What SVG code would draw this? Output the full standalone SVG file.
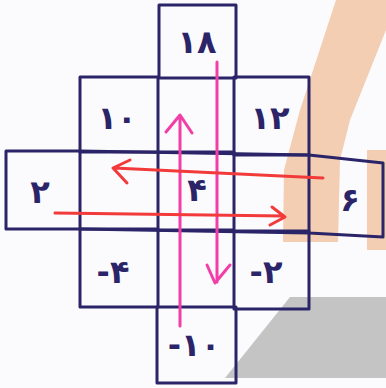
<svg xmlns="http://www.w3.org/2000/svg" width="386" height="388" viewBox="0 0 386 388">
<style>
.box{fill:none;stroke:#2b2468;stroke-width:3;stroke-linejoin:round}
.num{font-family:"DejaVu Sans",sans-serif;font-size:32px;font-weight:bold;fill:#2b2468;text-anchor:middle;dominant-baseline:central;direction:ltr;unicode-bidi:embed}
.pink{fill:none;stroke:#f23fa8;stroke-width:3;stroke-linecap:round;stroke-linejoin:round}
.red{fill:none;stroke:#f23a3a;stroke-width:3;stroke-linecap:round;stroke-linejoin:round}
</style>
<rect width="386" height="388" fill="#fbfbfd"/>
<g id="background">
<polygon points="336,0 386,0 386,30 350,120 340,160 338,242 283,242 284,170 300,110" fill="#f1c6a4" opacity="0.85"/>
<polygon points="367,150 386,150 386,250 367,250" fill="#f1c6a4" opacity="0.85"/>
<polygon points="290,297 386,297 386,378 225,378" fill="#c4c4c4"/>
</g>
<g id="node-top"><rect class="box" x="159" y="5" width="77" height="73"/><text class="num" x="197" y="42">۱۸</text></g>
<g id="node-tl"><rect class="box" x="80" y="77" width="78" height="75"/><text class="num" x="117" y="118">۱۰</text></g>
<g id="node-tr"><rect class="box" x="234" y="77" width="75" height="78"/><text class="num" x="270" y="118">۱۲</text></g>
<g id="node-left"><polygon class="box" points="6,151 80,151 80,229 6,229"/><text class="num" x="40" y="192">۲</text></g>
<g id="node-center"><rect class="box" x="158" y="152" width="76" height="78"/><text class="num" x="197" y="190">۴</text></g>
<g id="node-right"><polygon class="box" points="309,155 383,163 383,237 309,233"/><text class="num" x="350" y="200">۶</text></g>
<g id="node-bl"><rect class="box" x="80" y="229" width="78" height="78"/><text class="num" x="113" y="272">-۴</text></g>
<g id="node-br"><rect class="box" x="234" y="231" width="75" height="78"/><text class="num" x="266" y="272">-۲</text></g>
<g id="node-bottom"><rect class="box" x="157" y="307" width="79" height="76"/><text class="num" x="194" y="345">-۱۰</text></g>
<g id="grid-lines">
<line class="box" x1="80" y1="151" x2="309" y2="155"/>
<line class="box" x1="80" y1="229" x2="309" y2="233"/>
</g>
<g id="connectors">
<path class="pink" d="M180,326 V116 M166,132 L180,115 L192,133"/>
<path class="pink" d="M217,62 V282 M207,265 L215,283 L230,265"/>
<path class="red" d="M323,178 L114,168 M130,160 L113,168 L127,183"/>
<path class="red" d="M55,213 L284,216 M272,207 L285,217 L270,225"/>
</g>
</svg>
